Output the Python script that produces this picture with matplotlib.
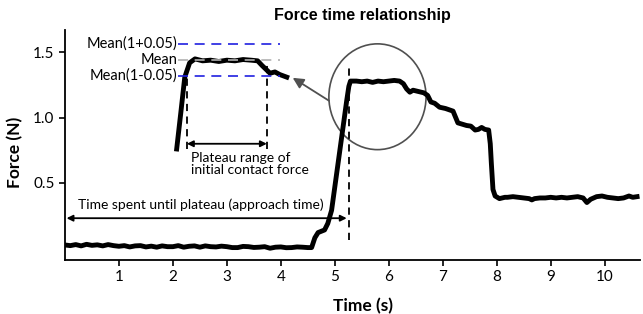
import matplotlib.pyplot as plt
from matplotlib.patches import Ellipse

# main force trace (s, N)
time = [0.0, 0.1, 0.2, 0.3, 0.4, 0.5, 0.6, 0.7, 0.8, 0.9, 1.0, 1.1, 1.2, 1.3, 1.4, 1.5,
        1.6, 1.7, 1.8, 1.9, 2.0, 2.1, 2.2, 2.3, 2.4, 2.5, 2.6, 2.7, 2.8, 2.9, 3.0, 3.1,
        3.2, 3.3, 3.4, 3.5, 3.6, 3.7, 3.8, 3.9, 4.0, 4.1, 4.2, 4.3, 4.4, 4.5, 4.57,
        4.63, 4.69, 4.75, 4.81, 4.87, 4.94, 5.05, 5.15, 5.22, 5.26, 5.29,
        5.4, 5.5, 5.6, 5.7, 5.8, 5.9, 6.0, 6.1, 6.2, 6.27, 6.33, 6.39, 6.45, 6.55,
        6.65, 6.72, 6.78, 6.85, 6.94, 7.05, 7.12, 7.19, 7.24, 7.28, 7.36, 7.44, 7.52,
        7.6, 7.66, 7.72, 7.78, 7.85, 7.88, 7.9, 7.93, 7.97, 8.05, 8.15,
        8.2, 8.3, 8.4, 8.5, 8.6, 8.65, 8.7, 8.8, 8.9, 9.0, 9.1, 9.2, 9.3, 9.4, 9.5,
        9.6, 9.67, 9.74, 9.85, 9.95, 10.05, 10.15, 10.25, 10.35, 10.45, 10.52, 10.6]
force = [0.025, 0.02, 0.028, 0.018, 0.03, 0.022, 0.026, 0.018, 0.028, 0.02, 0.015, 0.02,
         0.01, 0.018, 0.02, 0.01, 0.016, 0.008, 0.018, 0.012, 0.012, 0.02, 0.008, 0.015,
         0.018, 0.008, 0.018, 0.012, 0.01, 0.016, 0.012, 0.005, 0.005, 0.014, 0.012,
         0.006, 0.008, 0.012, 0.0, 0.008, 0.01, 0.004, 0.005, 0.01, 0.008, 0.005, 0.005,
         0.08, 0.12, 0.13, 0.14, 0.19, 0.29, 0.62, 0.92, 1.13, 1.24, 1.28,
         1.28, 1.275, 1.28, 1.27, 1.28, 1.275, 1.28, 1.285, 1.28, 1.26, 1.22, 1.195, 1.21,
         1.20, 1.19, 1.17, 1.12, 1.11, 1.08, 1.07, 1.06, 1.05, 1.0, 0.96, 0.95, 0.94,
         0.935, 0.905, 0.91, 0.925, 0.91, 0.905, 0.80, 0.65, 0.45, 0.40, 0.38, 0.39,
         0.39, 0.395, 0.39, 0.385, 0.38, 0.37, 0.38, 0.385, 0.385, 0.39, 0.385, 0.39,
         0.385, 0.39, 0.395, 0.385, 0.35, 0.375, 0.395, 0.40, 0.39, 0.385, 0.38, 0.385,
         0.40, 0.39, 0.395]

# magnified plateau drawn as inset (in main axis units)
inset_time = [2.07, 2.15, 2.22, 2.31, 2.41, 2.55, 2.7, 2.85, 3.0, 3.15, 3.3, 3.45,
              3.57, 3.65, 3.8, 3.89, 3.98, 4.11]
inset_force = [0.76, 1.05, 1.31, 1.42, 1.45, 1.435, 1.44, 1.43, 1.44, 1.435, 1.445,
               1.44, 1.435, 1.40, 1.34, 1.35, 1.33, 1.31]

mean_levels = [1.565, 1.44, 1.32]
mean_labels = ['Mean(1+0.05)', 'Mean', 'Mean(1-0.05)']
mean_colors = ['#2020e0', '#b0b0b0', '#2020e0']

plateau_start = 2.26
plateau_end = 3.74
approach_end = 5.26

xticks = [1, 2, 3, 4, 5, 6, 7, 8, 9, 10]
yticks = [0.5, 1.0, 1.5]

plt.rcParams['font.family'] = ['Lato', 'DejaVu Sans']

fig = plt.figure(figsize=(6.43, 3.14), dpi=100)
ax = fig.add_axes([0.101, 0.172, 0.894, 0.732])

ax.plot(time, force, color='black', lw=3.5, solid_joinstyle='round')
ax.plot(inset_time, inset_force, color='black', lw=3.5, solid_joinstyle='round')

for lvl, lab, col in zip(mean_levels, mean_labels, mean_colors):
    ax.plot([2.1, 3.98], [lvl, lvl], color=col, lw=1.2, dashes=(6, 4))
    ax.text(2.08, lvl, lab, ha='right', va='center', fontsize=10.5)

# plateau range markers
ax.plot([plateau_start, plateau_start], [0.76, 1.41], color='black', lw=1.3, dashes=(4, 3))
ax.plot([plateau_end, plateau_end], [0.76, 1.41], color='black', lw=1.3, dashes=(4, 3))
ax.annotate('', xy=(plateau_start, 0.80), xytext=(plateau_end, 0.80),
            arrowprops=dict(arrowstyle='<|-|>', color='black', lw=1.3,
                            mutation_scale=9, shrinkA=0, shrinkB=0))
ax.text(2.33, 0.735, 'Plateau range of\ninitial contact force', ha='left', va='top',
        fontsize=10, linespacing=1.0)

# approach time
ax.plot([approach_end, approach_end], [0.06, 1.40], color='black', lw=1.3, dashes=(4, 3))
ax.annotate('', xy=(0.03, 0.23), xytext=(approach_end - 0.04, 0.23),
            arrowprops=dict(arrowstyle='<|-|>', color='black', lw=1.3,
                            mutation_scale=9, shrinkA=0, shrinkB=0))
ax.text(2.52, 0.33, 'Time spent until plateau (approach time)', ha='center', va='center',
        fontsize=10)

ax.add_patch(Ellipse((5.79, 1.16), 1.80, 0.81, fill=False, edgecolor='#505050', lw=1.2))
ax.annotate('', xy=(4.22, 1.305), xytext=(4.89, 1.13),
            arrowprops=dict(arrowstyle='-|>', color='#505050', lw=1.3,
                            mutation_scale=16, shrinkA=0, shrinkB=0))

ax.set_xlim(0, 10.65)
ax.set_ylim(-0.09, 1.67)
ax.set_xticks(xticks)
ax.set_yticks(yticks)
ax.tick_params(labelsize=11, length=4, width=1.2, direction='out')
for s in ['top', 'right']:
    ax.spines[s].set_visible(False)
for s in ['left', 'bottom']:
    ax.spines[s].set_linewidth(1.3)

ax.set_xlabel('Time (s)', fontsize=12.5, fontweight='bold')
ax.xaxis.set_label_coords(0.518, -0.165)
ax.set_ylabel('Force (N)', fontsize=12.5, fontweight='bold')
ax.yaxis.set_label_coords(-0.072, 0.47)
fig.text(0.563, 0.95, 'Force time relationship', ha='center', va='center',
         fontsize=11.5, fontweight='bold', family='Liberation Sans')

fig.savefig('out.png', dpi=100)
